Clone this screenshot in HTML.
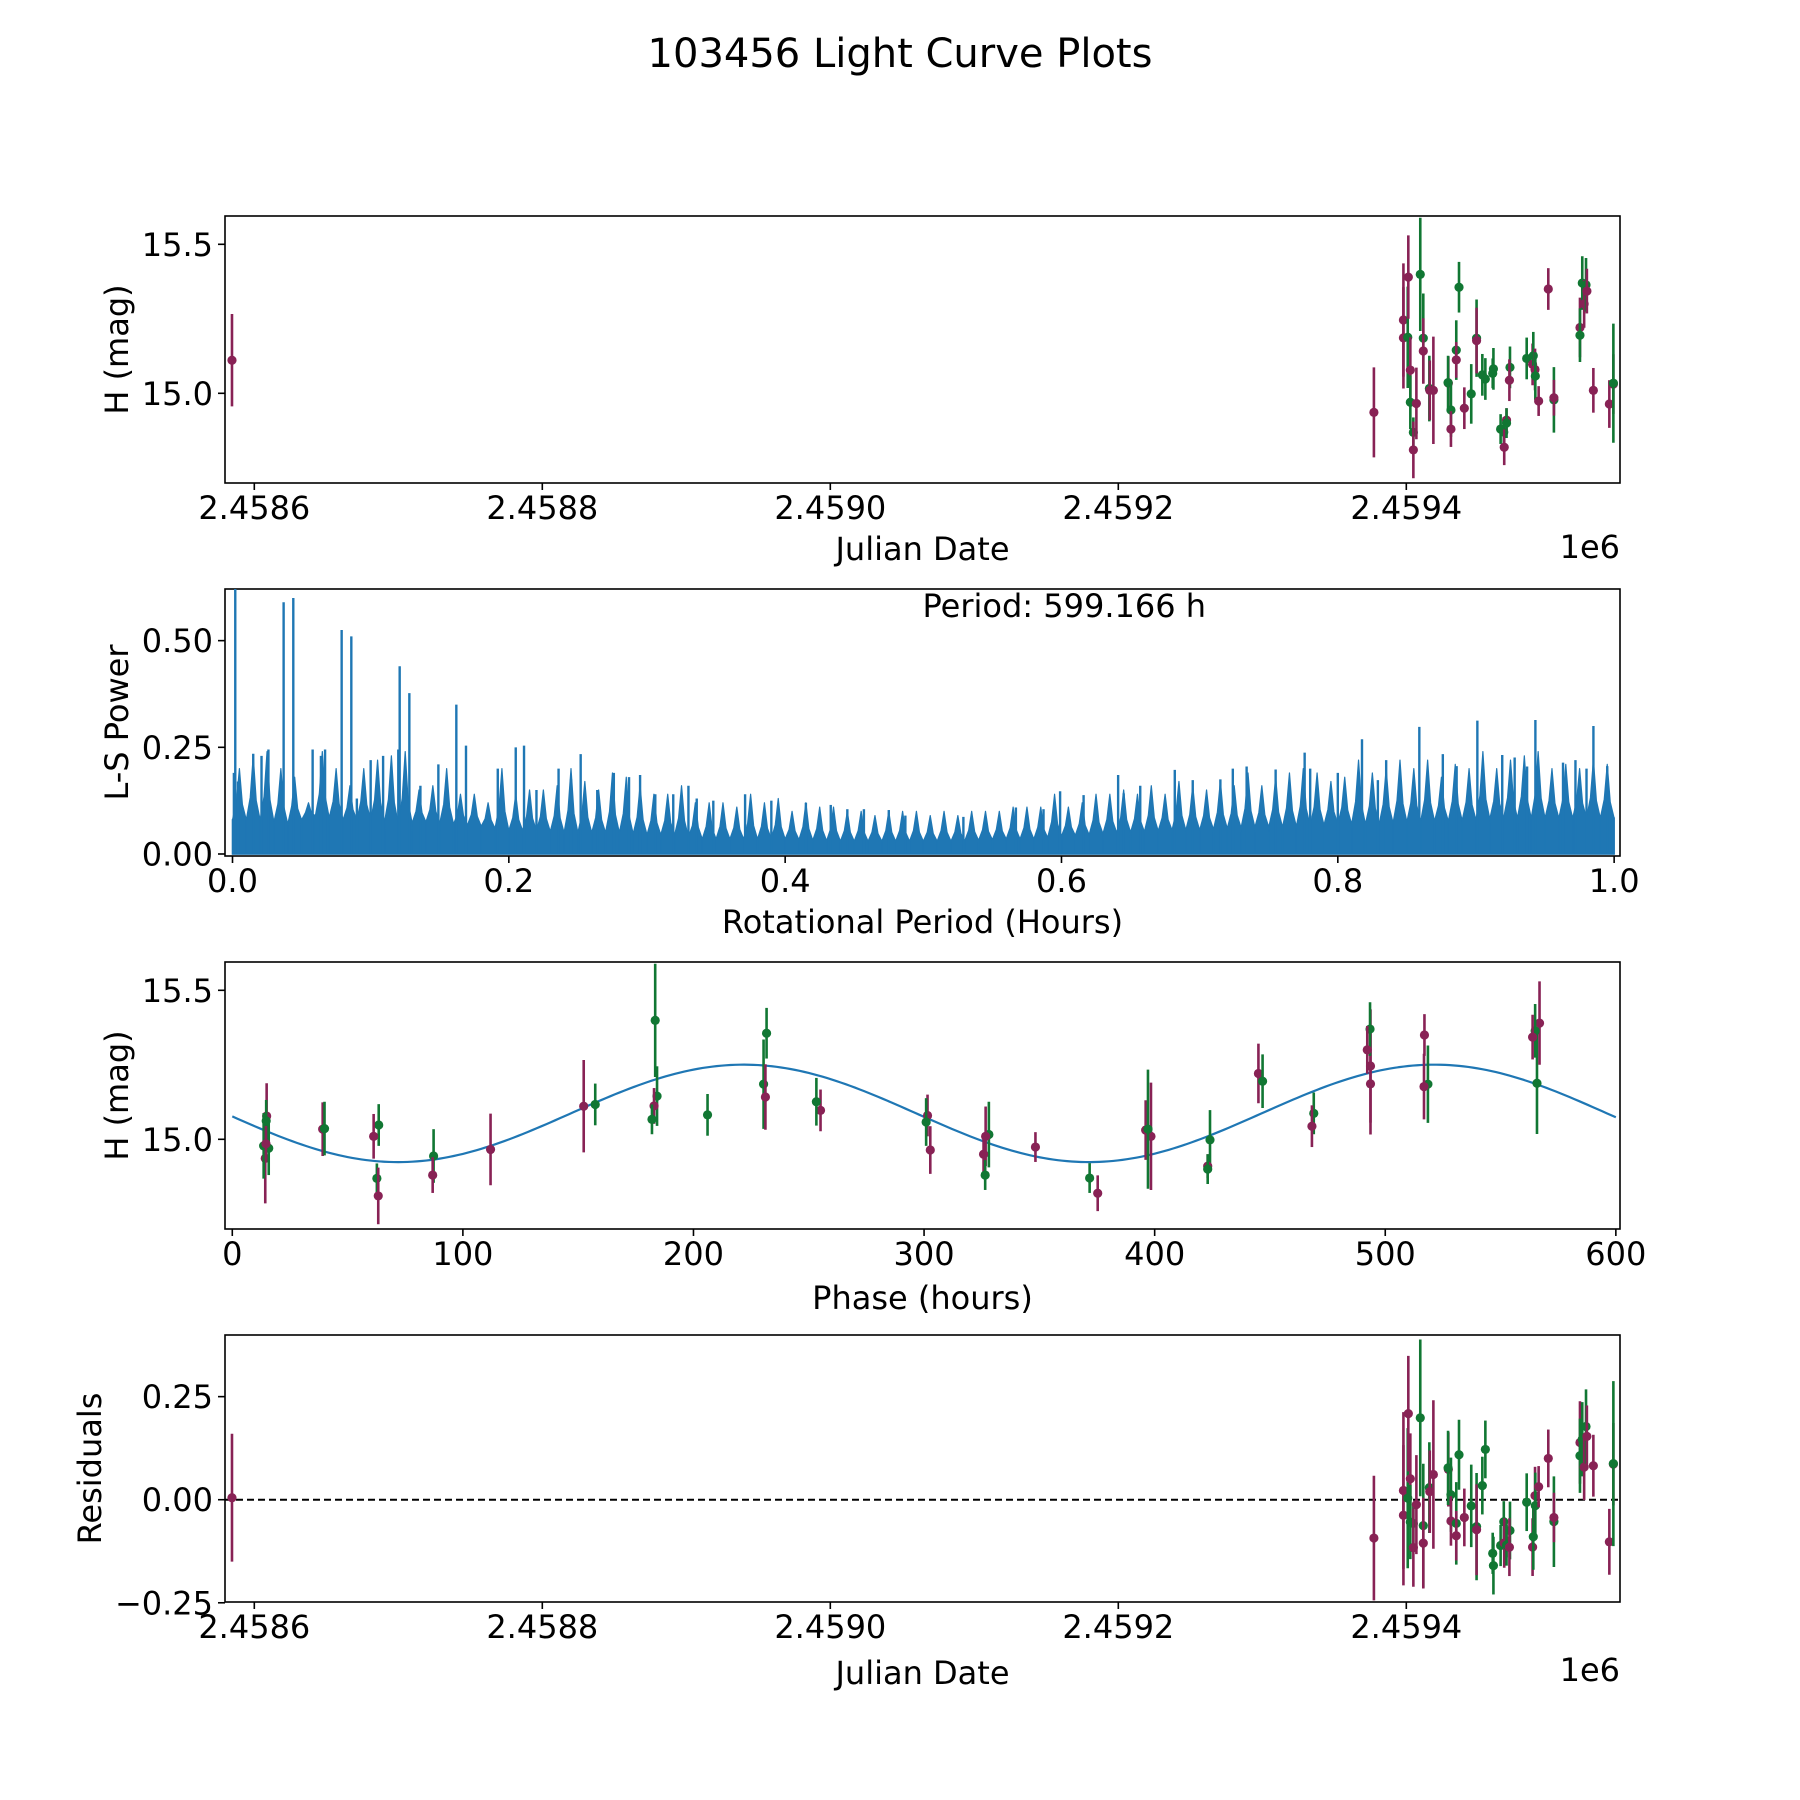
<!DOCTYPE html>
<html><head><meta charset="utf-8"><title>103456 Light Curve Plots</title>
<style>
html,body{margin:0;padding:0;background:#fff;}
svg{display:block;font-family:"DejaVu Sans","Liberation Sans",sans-serif;}
</style></head>
<body>
<svg id="fig" width="1800" height="1800" viewBox="0 0 1800 1800" xmlns="http://www.w3.org/2000/svg">
<rect x="0" y="0" width="1800" height="1800" fill="#fff"/>
<text x="900" y="67" font-size="40" text-anchor="middle" fill="#000">103456 Light Curve Plots</text>
</svg>
<script>
// ---- observation data ----
const obsJD = [2458584.5,2459377.5,2459398.0,2459398.0,2459401.0,2459401.4,2459402.8,2459402.8,2459404.9,2459404.9,2459407.0,2459409.7,2459411.8,2459411.8,2459416.0,2459416.3,2459418.8,2459429.2,2459429.0,2459431.0,2459431.0,2459434.7,2459434.7,2459436.6,2459440.3,2459445.1,2459448.8,2459448.8,2459452.8,2459454.9,2459460.0,2459460.5,2459465.5,2459467.7,2459468.0,2459469.6,2459469.6,2459472.0,2459471.6,2459483.6,2459487.7,2459488.2,2459489.4,2459489.6,2459491.9,2459498.6,2459502.5,2459502.5,2459520.6,2459520.6,2459522.2,2459523.5,2459524.8,2459525.4,2459529.9,2459541.0,2459543.8,2459543.8];
const obsMag = [15.111,14.936,15.246,15.186,15.188,15.390,15.078,14.970,14.869,14.810,14.966,15.399,15.185,15.142,15.016,15.010,15.010,15.034,15.036,14.944,14.880,15.145,15.112,15.356,14.950,14.998,15.185,15.177,15.062,15.048,15.067,15.082,14.880,14.870,14.819,14.910,14.900,15.087,15.044,15.117,15.097,15.126,15.080,15.058,14.974,15.350,14.978,14.985,15.221,15.195,15.370,15.300,15.364,15.343,15.010,14.964,15.031,15.034];
const obsErr = [0.155,0.151,0.19,0.17,0.17,0.14,0.11,0.09,0.05,0.095,0.12,0.19,0.15,0.11,0.11,0.10,0.18,0.09,0.09,0.09,0.06,0.10,0.06,0.085,0.07,0.10,0.13,0.11,0.07,0.07,0.05,0.07,0.05,0.05,0.06,0.04,0.05,0.07,0.07,0.07,0.07,0.08,0.07,0.08,0.05,0.07,0.11,0.06,0.10,0.09,0.09,0.08,0.09,0.075,0.075,0.08,0.10,0.20];
const obsBand = ['M','M','M','M','G','M','M','G','G','M','M','G','G','M','G','M','M','M','G','G','M','G','M','G','M','G','G','M','G','G','G','G','G','G','M','M','G','G','M','G','M','G','M','G','M','M','G','M','M','G','G','M','G','M','M','M','M','G'];
const obsPhase = [152.4,14.3,493.6,493.6,565.8,566.9,14.9,15.8,62.7,63.3,112.0,183.4,230.4,231.2,328.1,326.7,398.4,39.2,40.0,87.3,86.9,184.2,182.9,231.7,325.8,424.0,518.5,516.8,14.7,63.5,182.0,206.1,326.5,371.8,375.3,423.0,423.0,469.0,468.2,157.4,255.1,253.3,301.5,300.9,348.3,517.0,13.6,14.6,445.0,446.8,493.4,492.2,565.0,563.9,61.3,302.7,396.1,397.1];
// fitted model parameters
const fitMean = 15.087, fitAmp = 0.1635, fitPeak = 221.7, fitPeriod = 599.166;
// ---- periodogram data ----
const lsBodyX = [0.00,0.02,0.04,0.06,0.08,0.10,0.12,0.14,0.16,0.18,0.20,0.22,0.24,0.26,0.28,0.30,0.32,0.34,0.36,0.38,0.40,0.42,0.44,0.46,0.48,0.50,0.52,0.54,0.56,0.58,0.60,0.62,0.64,0.66,0.68,0.70,0.72,0.74,0.76,0.78,0.80,0.82,0.84,0.86,0.88,0.90,0.92,0.94,0.96,0.98,1.00];
const lsBodyH = [0.08,0.08,0.07,0.09,0.08,0.08,0.07,0.075,0.07,0.065,0.055,0.055,0.05,0.05,0.05,0.045,0.045,0.035,0.035,0.035,0.035,0.032,0.03,0.03,0.03,0.03,0.03,0.032,0.035,0.035,0.042,0.045,0.05,0.052,0.056,0.056,0.06,0.063,0.063,0.066,0.07,0.07,0.073,0.077,0.077,0.08,0.084,0.084,0.084,0.084,0.084];
const lsMidX0 = 0.0, lsMidStep = 0.01;
const lsMidH = [0.2,0.23,0.24,0.2,0.18,0.12,0.24,0.2,0.16,0.2,
0.22,0.23,0.24,0.15,0.16,0.2,0.14,0.14,0.12,0.2,
0.14,0.15,0.15,0.16,0.2,0.17,0.15,0.19,0.18,0.16,
0.14,0.14,0.16,0.12,0.12,0.12,0.11,0.14,0.12,0.13,
0.10,0.12,0.11,0.11,0.10,0.10,0.09,0.10,0.10,0.10,
0.09,0.10,0.09,0.10,0.10,0.10,0.11,0.11,0.11,0.14,
0.11,0.12,0.14,0.14,0.15,0.14,0.16,0.14,0.17,0.16,
0.15,0.17,0.16,0.19,0.16,0.18,0.19,0.20,0.19,0.17,
0.18,0.22,0.19,0.20,0.22,0.20,0.22,0.18,0.21,0.20,
0.24,0.20,0.22,0.23,0.24,0.20,0.21,0.20,0.22,0.21];
const lsSpikeX = [0.001,0.002,0.004,0.015,0.021,0.026,0.037,0.044,0.058,0.064,0.067,0.079,0.086,0.09,0.10,0.109,0.12,0.121,0.128,0.136,0.149,0.162,0.169,0.192,0.205,0.211,0.22,0.236,0.245,0.252,0.264,0.276,0.287,0.295,0.306,0.319,0.33,0.336,0.348,0.371,0.39,0.415,0.433,0.445,0.457,0.475,0.487,0.529,0.567,0.587,0.599,0.616,0.641,0.645,0.657,0.682,0.695,0.715,0.724,0.734,0.755,0.776,0.78,0.80,0.8175,0.829,0.835,0.859,0.876,0.886,0.901,0.919,0.928,0.937,0.943,0.963,0.972,0.98,0.985,0.995];
const lsSpikeH = [0.19,0.63,0.17,0.235,0.23,0.245,0.59,0.60,0.245,0.23,0.245,0.525,0.51,0.13,0.22,0.23,0.245,0.44,0.377,0.16,0.21,0.35,0.254,0.20,0.25,0.254,0.15,0.20,0.175,0.234,0.15,0.19,0.18,0.185,0.14,0.14,0.16,0.13,0.125,0.14,0.125,0.12,0.115,0.105,0.105,0.103,0.09,0.087,0.109,0.105,0.147,0.138,0.185,0.142,0.16,0.197,0.173,0.175,0.20,0.205,0.198,0.2375,0.20,0.19,0.269,0.173,0.22,0.298,0.234,0.206,0.3125,0.232,0.226,0.205,0.314,0.214,0.22,0.20,0.30,0.206];
// ---- tick labels ----
const jdTicks = [2458600,2458800,2459000,2459200,2459400];
const jdTickLabels = ['2.4586','2.4588','2.4590','2.4592','2.4594'];
const magTicks = [15.0,15.5];
const magTickLabels = ['15.0','15.5'];
const lsXTicks = [0,0.2,0.4,0.6,0.8,1.0];
const lsXTickLabels = ['0.0','0.2','0.4','0.6','0.8','1.0'];
const lsYTicks = [0,0.25,0.5];
const lsYTickLabels = ['0.00','0.25','0.50'];
const phaseTicks = [0,100,200,300,400,500,600];
const phaseTickLabels = ['0','100','200','300','400','500','600'];
const resTicks = [-0.25,0,0.25];
const resTickLabels = ['\u22120.25','0.00','0.25'];

const NS = 'http://www.w3.org/2000/svg';
const svg = document.getElementById('fig');
const COL = {M:'#882255', G:'#117733'};
function mk(tag, attrs, parent){
  const e = document.createElementNS(NS, tag);
  for (const k in attrs) e.setAttribute(k, attrs[k]);
  (parent||svg).appendChild(e);
  return e;
}
function lin(d0,d1,r0,r1){ return v => r0 + (v-d0)/(d1-d0)*(r1-r0); }
function interp(xs, ys, x){
  for (let i=0;i<xs.length-1;i++){ if (x<=xs[i+1]) return ys[i]+(ys[i+1]-ys[i])*(x-xs[i])/(xs[i+1]-xs[i]); }
  return ys[ys.length-1];
}

const L = 225, R = 1620;
const panels = [
  {top:216, bot:483}, {top:589, bot:856}, {top:962, bot:1229}, {top:1335, bot:1602}
];
const xJD = lin(2458579.65, 2459548.4, L, R);
const xLS = lin(-0.00543, 1.00424, L, R);
const xPh = lin(-3.16, 601.8, L, R);
const yMag1 = lin(14.699, 15.595, panels[0].bot, panels[0].top);
const yLS = lin(-0.0047, 0.621, panels[1].bot, panels[1].top);
const yMag3 = lin(14.699, 15.595, panels[2].bot, panels[2].top);
const yRes = lin(-0.2481, 0.3995, panels[3].bot, panels[3].top);

function model(ph){ return fitMean + fitAmp*Math.cos(4*Math.PI*(ph-fitPeak)/fitPeriod); }

const defs = mk('defs',{});
panels.forEach((p,i)=>{
  const cp = mk('clipPath',{id:'clip'+i},defs);
  mk('rect',{x:L,y:p.top,width:R-L,height:p.bot-p.top},cp);
});

function axesFrame(i, name){
  const p = panels[i];
  const r = mk('rect',{x:L,y:p.top,width:R-L,height:p.bot-p.top,fill:'none',stroke:'#000','stroke-width':1.6});
  
  
}
function xTicks(i, scale, vals, labels, name){
  const p = panels[i];
  const g = mk('g',{});
  
  
  vals.forEach((v,k)=>{
    const x = scale(v);
    mk('line',{x1:x,x2:x,y1:p.bot,y2:p.bot+7,stroke:'#000','stroke-width':1.6},g);
    const t = mk('text',{x:x,y:p.bot+36,'font-size':32,'text-anchor':'middle',fill:'#000'},g);
    t.textContent = labels[k];
    
    
  });
}
function yTicks(i, scale, vals, labels, name){
  const g = mk('g',{});
  
  
  vals.forEach((v,k)=>{
    const y = scale(v);
    mk('line',{x1:L-7,x2:L,y1:y,y2:y,stroke:'#000','stroke-width':1.6},g);
    const t = mk('text',{x:L-12,y:y+11.5,'font-size':32,'text-anchor':'end',fill:'#000'},g);
    t.textContent = labels[k];
    
    
  });
}
function label(txt, x, y, rot, anchor, name){
  const t = mk('text',{x:x,y:y,'font-size':32,'text-anchor':anchor||'middle',fill:'#000'});
  if (rot) t.setAttribute('transform','rotate(-90 '+x+' '+y+')');
  t.textContent = txt;
  
  
}
function errPoints(i, xs, ys, es, name){
  const g = mk('g',{'clip-path':'url(#clip'+i+')'});
  
  
  for (let k=0;k<xs.length;k++){
    const c = COL[obsBand[k]];
    const x = xs[k];
    mk('line',{x1:x,x2:x,y1:es[k][0],y2:es[k][1],stroke:c,'stroke-width':2.6},g);
    const d = mk('circle',{cx:x,cy:ys[k],r:4.6,fill:c},g);
    
    
  }
}

// ---- Panel 1 ----
axesFrame(0,'jd-axes');
errPoints(0, obsJD.map(xJD), obsMag.map(yMag1), obsMag.map((m,k)=>[yMag1(m+obsErr[k]), yMag1(m-obsErr[k])]), 'mag-vs-jd-points');
xTicks(0, xJD, jdTicks, jdTickLabels, 'jd-x-ticks');
yTicks(0, yMag1, magTicks, magTickLabels, 'mag-y-ticks');
label('Julian Date', 922.5, 560, false, 'middle', 'x-axis-title-jd');
label('1e6', R, 558, false, 'end', 'x-offset-label-jd');
label('H (mag)', 128, 349.5, true, 'middle', 'y-axis-title-mag');

// ---- Panel 2: periodogram ----
axesFrame(1,'periodogram-axes');
(function(){
  const g = mk('g',{'clip-path':'url(#clip1)'});
  
  
  let d = 'M'+xLS(lsBodyX[0])+','+yLS(0);
  lsBodyX.forEach((x,k)=>{ d += ' L'+xLS(x)+','+yLS(lsBodyH[k]); });
  d += ' L'+xLS(lsBodyX[lsBodyX.length-1])+','+yLS(0)+' Z';
  const body = mk('path',{d:d,fill:'#1f77b4',stroke:'#1f77b4','stroke-width':1.5},g);
  
  
  // per-bin local maxima drawn as narrow peaks above the body
  let m = '';
  lsMidH.forEach((h,k)=>{
    const xs = lsMidX0 + k*lsMidStep, xc = xs + lsMidStep/2;
    const b0 = interp(lsBodyX, lsBodyH, xs), bc = interp(lsBodyX, lsBodyH, xc);
    m += 'M'+xLS(xs)+','+yLS(0)+' L'+xLS(xs)+','+yLS(b0)+' L'+(xLS(xc)-3)+','+yLS(bc+(h-bc)*0.35)+' L'+xLS(xc)+','+yLS(h)+' L'+(xLS(xc)+3)+','+yLS(bc+(h-bc)*0.3)+' L'+xLS(xs+lsMidStep)+','+yLS(interp(lsBodyX, lsBodyH, xs+lsMidStep))+' L'+xLS(xs+lsMidStep)+','+yLS(0)+' Z ';
  });
  const mid = mk('path',{d:m,fill:'#1f77b4',stroke:'#1f77b4','stroke-width':1.2,'stroke-linejoin':'round'},g);
  
  
  lsSpikeX.forEach((x,k)=>{
    const ln = mk('line',{x1:xLS(x),x2:xLS(x),y1:yLS(0),y2:yLS(lsSpikeH[k]),stroke:'#1f77b4','stroke-width':2.4},g);
    
    
  });
})();
xTicks(1, xLS, lsXTicks, lsXTickLabels, 'period-x-ticks');
yTicks(1, yLS, lsYTicks, lsYTickLabels, 'power-y-ticks');
label('Period: 599.166 h', 922.5, 617, false, 'start', 'period-annotation');
label('Rotational Period (Hours)', 922.5, 933, false, 'middle', 'x-axis-title-period');
label('L-S Power', 128, 722.5, true, 'middle', 'y-axis-title-power');

// ---- Panel 3 ----
axesFrame(2,'phase-axes');
(function(){
  let d = '';
  for (let ph=0; ph<=600; ph+=2){ d += (ph? ' L':'M') + xPh(ph)+','+yMag3(model(ph)); }
  const c = mk('path',{d:d,fill:'none',stroke:'#1f77b4','stroke-width':2.2,'clip-path':'url(#clip2)'});
  
  
})();
errPoints(2, obsPhase.map(xPh), obsMag.map(yMag3), obsMag.map((m,k)=>[yMag3(m+obsErr[k]), yMag3(m-obsErr[k])]), 'mag-vs-phase-points');
xTicks(2, xPh, phaseTicks, phaseTickLabels, 'phase-x-ticks');
yTicks(2, yMag3, magTicks, magTickLabels, 'phase-mag-y-ticks');
label('Phase (hours)', 922.5, 1309, false, 'middle', 'x-axis-title-phase');
label('H (mag)', 128, 1095.5, true, 'middle', 'y-axis-title-phase-mag');

// ---- Panel 4 ----
axesFrame(3,'residual-axes');
(function(){
  const z = mk('line',{x1:L,x2:R,y1:yRes(0),y2:yRes(0),stroke:'#000','stroke-width':2,'stroke-dasharray':'7,4'});
  
  
})();
(function(){
  const res = obsMag.map((m,k)=> m - model(obsPhase[k]));
  errPoints(3, obsJD.map(xJD), res.map(yRes), res.map((r,k)=>[yRes(r+obsErr[k]), yRes(r-obsErr[k])]), 'residual-points');
})();
xTicks(3, xJD, jdTicks, jdTickLabels, 'residual-x-ticks');
yTicks(3, yRes, resTicks, resTickLabels, 'residual-y-ticks');
label('Julian Date', 922.5, 1684, false, 'middle', 'x-axis-title-jd-residual');
label('1e6', R, 1681, false, 'end', 'x-offset-label-residual');
label('Residuals', 101, 1468.5, true, 'middle', 'y-axis-title-residuals');
</script>
</body></html>
